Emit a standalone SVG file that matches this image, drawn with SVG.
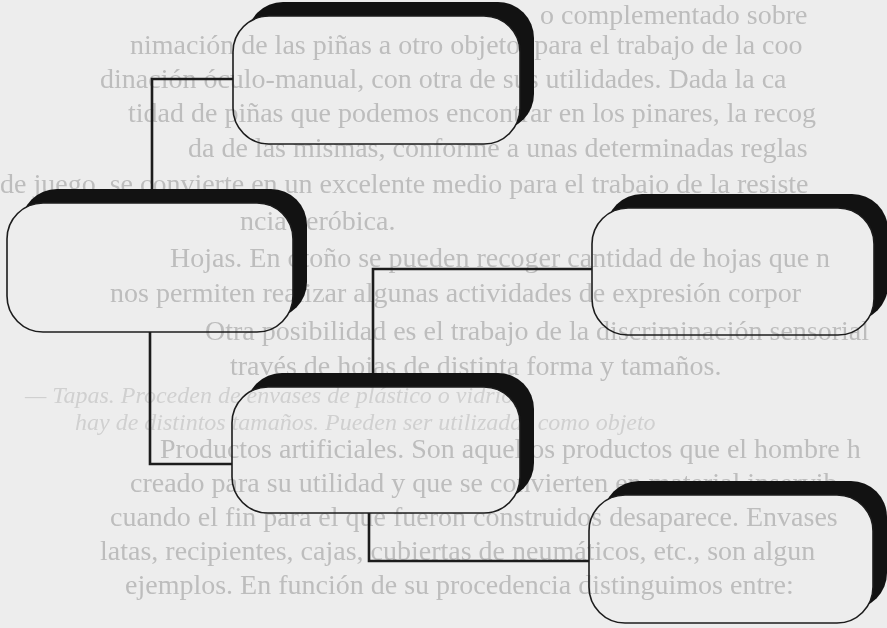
<svg xmlns="http://www.w3.org/2000/svg" width="887" height="628" viewBox="0 0 887 628">
<style>
.bg{fill:#ededed}
.pt{font-family:"Liberation Serif","DejaVu Serif",serif;font-size:28px;fill:#bdbdbd}
.pt2{font-family:"Liberation Serif","DejaVu Serif",serif;font-size:24px;fill:#d0d0d0;font-style:italic}
.outline{fill:none;stroke:#1c1c1c;stroke-width:1.6}
.shadow{fill:#121212}
.conn{fill:none;stroke:#1c1c1c;stroke-width:2.6}
</style>
<defs>
<filter id="soft" x="-2%" y="-2%" width="104%" height="104%"><feGaussianBlur stdDeviation="0.6"/></filter>
<mask id="m1" maskUnits="userSpaceOnUse" x="0" y="0" width="887" height="628"><rect x="0" y="0" width="887" height="628" fill="#fff"/><rect x="233" y="16" width="287" height="128" rx="36" fill="#000"/></mask>
<mask id="m2" maskUnits="userSpaceOnUse" x="0" y="0" width="887" height="628"><rect x="0" y="0" width="887" height="628" fill="#fff"/><rect x="7" y="203" width="286" height="129" rx="36" fill="#000"/></mask>
<mask id="m3" maskUnits="userSpaceOnUse" x="0" y="0" width="887" height="628"><rect x="0" y="0" width="887" height="628" fill="#fff"/><rect x="592" y="208" width="282" height="127" rx="36" fill="#000"/></mask>
<mask id="m4" maskUnits="userSpaceOnUse" x="0" y="0" width="887" height="628"><rect x="0" y="0" width="887" height="628" fill="#fff"/><rect x="232" y="387" width="288" height="126" rx="36" fill="#000"/></mask>
<mask id="m5" maskUnits="userSpaceOnUse" x="0" y="0" width="887" height="628"><rect x="0" y="0" width="887" height="628" fill="#fff"/><rect x="589" y="495" width="284" height="128" rx="36" fill="#000"/></mask>
</defs>
<rect class="bg" x="0" y="0" width="887" height="628"/>
<g id="page-text" filter="url(#soft)">
<text class="pt" x="540" y="24">o complementado sobre</text>
<text class="pt" x="130" y="54">nimación de las piñas a otro objeto, para el trabajo de la coo</text>
<text class="pt" x="100" y="88">dinación óculo-manual, con otra de sus utilidades. Dada la ca</text>
<text class="pt" x="128" y="122">tidad de piñas que podemos encontrar en los pinares, la recog</text>
<text class="pt" x="188" y="157">da de las mismas, conforme a unas determinadas reglas</text>
<text class="pt" x="0" y="193">de juego, se convierte en un excelente medio para el trabajo de la resiste</text>
<text class="pt" x="240" y="230">ncia aeróbica.</text>
<text class="pt" x="170" y="267">Hojas. En otoño se pueden recoger cantidad de hojas que n</text>
<text class="pt" x="110" y="302">nos permiten realizar algunas actividades de expresión corpor</text>
<text class="pt" x="205" y="340">Otra posibilidad es el trabajo de la discriminación sensorial</text>
<text class="pt" x="230" y="375">través de hojas de distinta forma y tamaños.</text>
<text class="pt2" x="25" y="403">— Tapas. Proceden de envases de plástico o vidrio,</text>
<text class="pt2" x="75" y="430">hay de distintos tamaños. Pueden ser utilizadas como objeto</text>
<text class="pt" x="160" y="458">Productos artificiales. Son aquellos productos que el hombre h</text>
<text class="pt" x="130" y="492">creado para su utilidad y que se convierten en material inservib</text>
<text class="pt" x="110" y="526">cuando el fin para el que fueron construidos desaparece. Envases</text>
<text class="pt" x="100" y="560">latas, recipientes, cajas, cubiertas de neumáticos, etc., son algun</text>
<text class="pt" x="125" y="594">ejemplos. En función de su procedencia distinguimos entre:</text>
</g>
<g id="connectors">
<path class="conn" d="M233,79 H152 V190"/>
<path class="conn" d="M150,332 V464 H232"/>
<path class="conn" d="M592,269 H373 V373"/>
<path class="conn" d="M369,513 V561 H589"/>
</g>
<g id="box1">
<rect class="shadow" x="247" y="2" width="287" height="128" rx="36" mask="url(#m1)"/>
<rect class="outline" x="233" y="16" width="287" height="128" rx="36"/>
</g>
<g id="box2">
<rect class="shadow" x="21" y="189" width="286" height="129" rx="36" mask="url(#m2)"/>
<rect class="outline" x="7" y="203" width="286" height="129" rx="36"/>
</g>
<g id="box3">
<rect class="shadow" x="606" y="194" width="282" height="127" rx="36" mask="url(#m3)"/>
<rect class="outline" x="592" y="208" width="282" height="127" rx="36"/>
</g>
<g id="box4">
<rect class="shadow" x="246" y="373" width="288" height="126" rx="36" mask="url(#m4)"/>
<rect class="outline" x="232" y="387" width="288" height="126" rx="36"/>
</g>
<g id="box5">
<rect class="shadow" x="603" y="481" width="284" height="128" rx="36" mask="url(#m5)"/>
<rect class="outline" x="589" y="495" width="284" height="128" rx="36"/>
</g>
</svg>
